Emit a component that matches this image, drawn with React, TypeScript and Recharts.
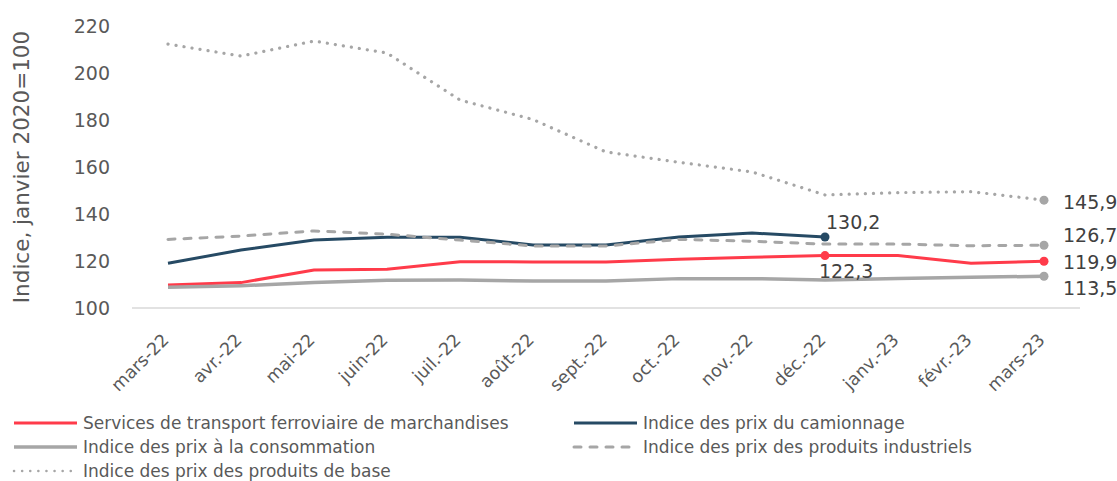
import { LineChart, Line, XAxis, YAxis, Legend } from 'recharts';

const months = ['mars-22', 'avr.-22', 'mai-22', 'juin-22', 'juil.-22', 'août-22', 'sept.-22', 'oct.-22', 'nov.-22', 'déc.-22', 'janv.-23', 'févr.-23', 'mars-23'];
const rail = [109.8, 110.8, 116.2, 116.5, 119.7, 119.6, 119.6, 120.7, 121.6, 122.3, 122.3, 119.0, 119.9];
const camion = [119.0, 124.7, 128.9, 130.1, 130.1, 126.8, 126.8, 130.2, 131.9, 130.2, null, null, null];
const cpi = [108.8, 109.5, 110.8, 111.8, 111.9, 111.5, 111.5, 112.5, 112.5, 111.9, 112.6, 113.1, 113.5];
const industriels = [129.2, 130.6, 132.8, 131.4, 128.9, 126.4, 126.4, 129.2, 128.4, 127.2, 127.2, 126.5, 126.7];
const base = [212.3, 207.2, 213.6, 208.5, 188.5, 180.2, 166.4, 162.0, 157.9, 148.1, 149.1, 149.5, 145.9];
const yTicks = [100, 120, 140, 160, 180, 200, 220];

const data = months.map((m, i) => ({
  month: m,
  rail: rail[i],
  camion: camion[i],
  cpi: cpi[i],
  industriels: industriels[i],
  base: base[i],
}));

const FONT = '"DejaVu Sans", sans-serif';
const TEXT = '#595959';

const series = [
  { key: 'rail', name: 'Services de transport ferroviaire de marchandises', color: '#FF3B4A', width: 3, dash: undefined as string | undefined, cap: 'butt' },
  { key: 'camion', name: 'Indice des prix du camionnage', color: '#264A64', width: 3, dash: undefined, cap: 'butt' },
  { key: 'cpi', name: 'Indice des prix à la consommation', color: '#A6A6A6', width: 3.5, dash: undefined, cap: 'butt' },
  { key: 'industriels', name: 'Indice des prix des produits industriels', color: '#A6A6A6', width: 3, dash: '7 9', cap: 'round' },
  { key: 'base', name: 'Indice des prix des produits de base', color: '#A6A6A6', width: 3.2, dash: '0.1 8', cap: 'round' },
];

const fmt = (v: number) => v.toFixed(1).replace('.', ',');

// which points get a marker + label, and where the label sits relative to the point
const labelSpots: Record<string, Array<{ idx: number; dx: number; dy: number }>> = {
  rail: [{ idx: 9, dx: -6, dy: 22 }, { idx: 12, dx: 19, dy: 8 }],
  camion: [{ idx: 9, dx: 1, dy: -8 }],
  cpi: [{ idx: 12, dx: 19, dy: 19 }],
  industriels: [{ idx: 12, dx: 19, dy: -3 }],
  base: [{ idx: 12, dx: 19, dy: 9 }],
};

const makeDot = (key: string, color: string) => (props: any) => {
  const spots = labelSpots[key];
  if (!spots.some((s) => s.idx === props.index) || props.cy == null) return <g key={`d-${key}-${props.index}`} />;
  return <circle key={`d-${key}-${props.index}`} cx={props.cx} cy={props.cy} r={4.5} fill={color} stroke="none" />;
};

const makeLabel = (key: string) => (props: any) => {
  const spot = labelSpots[key].find((s) => s.idx === props.index);
  if (!spot || props.value == null) return <g key={`l-${key}-${props.index}`} />;
  return (
    <text key={`l-${key}-${props.index}`} x={props.x + spot.dx} y={props.y + spot.dy} fill="#404040" fontSize={19} fontFamily={FONT} textAnchor="start">
      {fmt(props.value)}
    </text>
  );
};

const MonthTick = (props: any) => {
  const { x, y, payload } = props;
  const ax = x + 2;
  const ay = y + 25;
  return (
    <text x={ax} y={ay} transform={`rotate(-45, ${ax}, ${ay})`} textAnchor="end" fill={TEXT} fontSize={17.5} fontFamily={FONT}>
      {payload.value}
    </text>
  );
};

const LegendSwatch = ({ color, width, dash, cap }: { color: string; width: number; dash?: string; cap: string }) => (
  <svg width={66} height={10} style={{ flex: 'none' }}>
    <line x1={2} y1={5} x2={65} y2={5} stroke={color} strokeWidth={dash === '0.1 8' ? 2.5 : width} strokeDasharray={dash} strokeLinecap={cap as any} />
  </svg>
);

const renderLegend = () => (
  <div style={{ display: 'grid', gridTemplateColumns: '560px 1fr', rowGap: 2, paddingTop: 6, fontFamily: FONT, fontSize: 17, color: TEXT }}>
    {series.map((s) => (
      <div key={s.key} style={{ display: 'flex', alignItems: 'center', gap: 5, height: 22, whiteSpace: 'nowrap' }}>
        <LegendSwatch color={s.color} width={s.width} dash={s.dash} cap={s.cap} />
        <span>{s.name}</span>
      </div>
    ))}
  </div>
);

export default function App() {
  return (
    <div style={{ width: 1117, height: 481, background: '#fff' }}>
      <style>{'body{margin:0}'}</style>
      <LineChart width={1117} height={481} data={data} margin={{ top: 26, right: 37, bottom: 0, left: 14 }}>
        <XAxis
          dataKey="month"
          interval={0}
          tick={<MonthTick />}
          tickLine={false}
          axisLine={{ stroke: '#D9D9D9', strokeWidth: 1.5 }}
          padding={{ left: 36, right: 36 }}
          height={98}
        />
        <YAxis
          domain={[100, 220]}
          ticks={yTicks}
          tickLine={false}
          axisLine={false}
          tickSize={0}
          tickMargin={22}
          width={118}
          tick={{ fill: TEXT, fontSize: 19, fontFamily: FONT }}
          label={{ value: 'Indice, janvier 2020=100', angle: -90, position: 'insideLeft', offset: 7, style: { textAnchor: 'middle', fill: TEXT, fontSize: 21.5, fontFamily: FONT } }}
        />
        <Legend verticalAlign="bottom" align="left" height={75} content={renderLegend} wrapperStyle={{ left: 12 }} />
        {series.map((s) => (
          <Line
            key={s.key}
            type="linear"
            dataKey={s.key}
            name={s.name}
            stroke={s.color}
            strokeWidth={s.width}
            strokeDasharray={s.dash}
            strokeLinecap={s.cap as any}
            dot={makeDot(s.key, s.color)}
            activeDot={false}
            label={makeLabel(s.key)}
            isAnimationActive={false}
          />
        ))}
      </LineChart>
    </div>
  );
}
